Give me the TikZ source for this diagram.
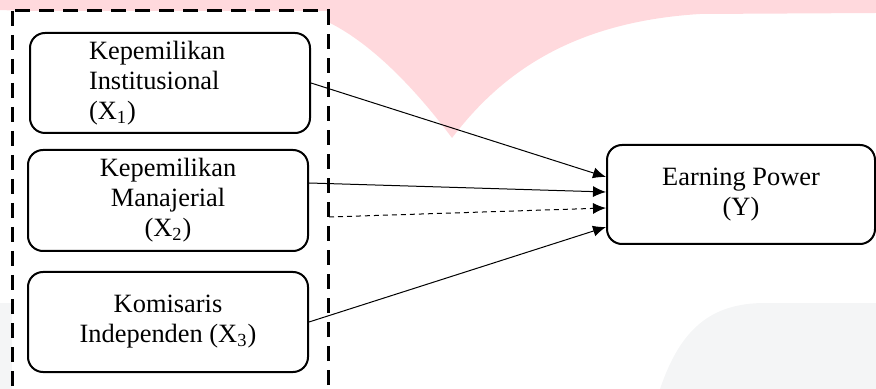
\documentclass[tikz,border=0pt]{standalone}
\usepackage{fontspec}
\setmainfont{Liberation Serif}
\usepackage{xcolor}
\usetikzlibrary{arrows.meta}
\definecolor{markpink}{RGB}{255,217,221}
\definecolor{markgrey}{RGB}{244,245,246}

\begin{document}
\begin{tikzpicture}[x=0.5pt, y=-0.5pt,
    every node/.style={font=\fontsize{13.2}{15}\selectfont, inner sep=0pt},
    box/.style={draw, line width=1pt, rounded corners=7.5pt, fill=white,
        minimum width=140pt, minimum height=50pt, align=center},
    link/.style={-{Latex[length=6.5pt, width=5.5pt]}, line width=0.5pt}]
    \useasboundingbox (0,0) rectangle (876,389);

    % watermark in the background
    \fill[markpink] (0,0) -- (876,0) -- (876,13) -- (700,14)
        .. controls (570,22) and (500,75) .. (452,138)
        .. controls (420,95) and (375,45) .. (328,22) -- (0,10) -- cycle;
    \fill[markgrey] (660,389) .. controls (680,330) and (710,303) .. (765,303)
        -- (876,303) -- (876,389) -- cycle;
    \fill[markgrey] (0,303) rectangle (30,389);

    % dashed group of the independent variables
    \draw[line width=1.5pt, dash pattern=on 7.5pt off 4.5pt, fill=white]
        (12,11) rectangle (328,400);

    \node[box, text width=81pt, align=left] (X1) at (170,83)
        {Kepemilikan\\Institusional\\(X\textsubscript{1})};
    \node[box, minimum height=50.5pt] (X2) at (168,200.5)
        {Kepemilikan\\Manajerial\\(X\textsubscript{2})};
    \node[box] (X3) at (168,322)
        {Komisaris\\Independen (X\textsubscript{3})};
    \node[box, minimum width=134pt, minimum height=49.5pt] (Y) at (741,194.5)
        {Earning Power\\(Y)};
    \coordinate (G) at (329,217);

    \draw[link] (X1.east) -- ([yshift=8.75pt]Y.west);
    \draw[link] ([yshift=8.75pt]X2.east) -- ([yshift=1.25pt]Y.west);
    \draw[link, dash pattern=on 2.5pt off 2pt] (G) -- ([yshift=-6.75pt]Y.west);
    \draw[link] (X3.east) -- ([yshift=-16.25pt]Y.west);
\end{tikzpicture}
\end{document}
